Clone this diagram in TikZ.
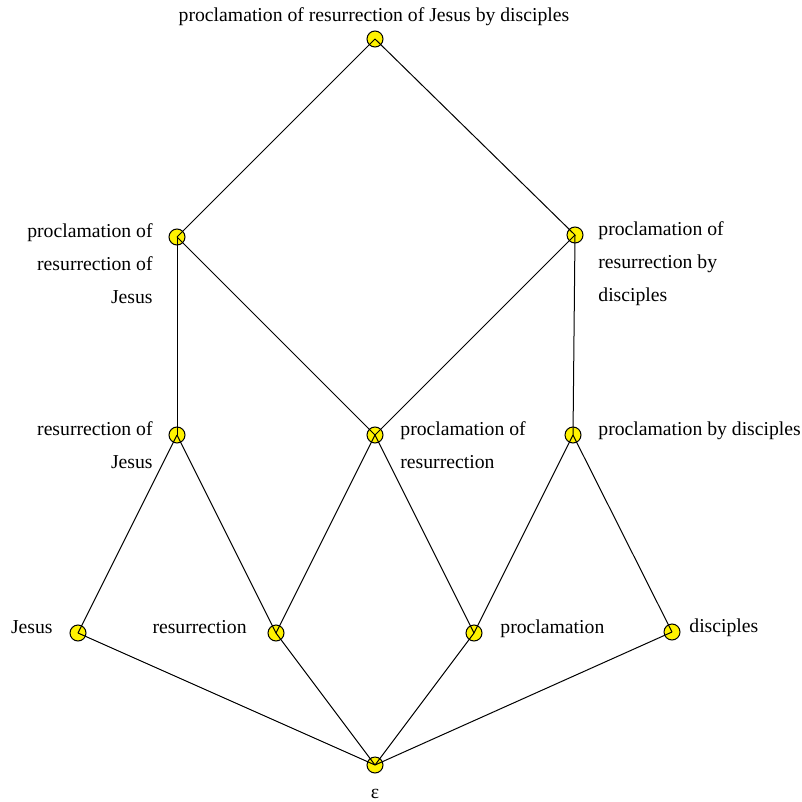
\documentclass[tikz,border=0pt]{standalone}
\usepackage{fontspec}
\setmainfont{Liberation Serif}
\usepackage{tikz}
\usetikzlibrary{positioning}
\tikzset{
  vert/.style = {circle, draw, fill=yellow, line width=0.5pt,
                 inner sep=0pt, minimum size=8pt},
  lbl/.style = {font=\fontsize{9.85}{16.5}\selectfont, inner sep=0pt},
  edge/.style = {line width=0.5pt},
}

\begin{document}
\begin{tikzpicture}[x=0.5pt, y=-0.5pt]
\useasboundingbox (0,0) rectangle (802,802);
% vertices of the lattice
\node[vert] (prjd) at (375, 39) {};
\node[vert] (prj)  at (177,237) {};
\node[vert] (prd)  at (575,235) {};
\node[vert] (rj)   at (177,435) {};
\node[vert] (pr)   at (375,435) {};
\node[vert] (pd)   at (573,435) {};
\node[vert] (jes)  at ( 78,633) {};
\node[vert] (res)  at (276,633) {};
\node[vert] (pro)  at (474,633) {};
\node[vert] (dis)  at (672,632) {};
\node[vert] (eps)  at (375,765) {};
% edges
\draw[edge] (prjd.center) -- (prj.center);
\draw[edge] (prjd.center) -- (prd.center);
\draw[edge] (prj.center) -- (rj.center);
\draw[edge] (prj.center) -- (pr.center);
\draw[edge] (prd.center) -- (pr.center);
\draw[edge] (prd.center) -- (pd.center);
\draw[edge] (rj.center) -- (jes.center);
\draw[edge] (rj.center) -- (res.center);
\draw[edge] (pr.center) -- (res.center);
\draw[edge] (pr.center) -- (pro.center);
\draw[edge] (pd.center) -- (pro.center);
\draw[edge] (pd.center) -- (dis.center);
\draw[edge] (jes.center) -- (eps.center);
\draw[edge] (res.center) -- (eps.center);
\draw[edge] (pro.center) -- (eps.center);
\draw[edge] (dis.center) -- (eps.center);
% labels
\node[lbl, anchor=base] (t-prjd) at (374,22)
  {proclamation of resurrection of Jesus by disciples};
\node[lbl, align=right, left=12pt of prj.center, anchor=base east, yshift=-33pt] (t-prj)
  {proclamation of~\\resurrection of\\Jesus};
\node[lbl, align=left, right=11.5pt of prd.center, anchor=base west, yshift=-33pt] (t-prd)
  {proclamation of\\resurrection by\\disciples};
\node[lbl, align=right, left=12pt of rj.center, anchor=base east, yshift=-16.5pt] (t-rj)
  {resurrection of\\Jesus};
\node[lbl, align=left, right=12.5pt of pr.center, anchor=base west, yshift=-16.5pt] (t-pr)
  {proclamation of\\resurrection};
\node[lbl, right=12.5pt of pd.center, anchor=base west] (t-pd)
  {proclamation by disciples};
\node[lbl, left=12.5pt of jes.center, anchor=base east] (t-jes) {Jesus};
\node[lbl, left=14.5pt of res.center, anchor=base east] (t-res) {resurrection};
\node[lbl, right=13pt of pro.center, anchor=base west] (t-pro) {proclamation};
\node[lbl, right=8.5pt of dis.center, anchor=base west] (t-dis) {disciples};
\node[lbl, anchor=base] (t-eps) at (375,798) {ε};
\end{tikzpicture}
\end{document}
